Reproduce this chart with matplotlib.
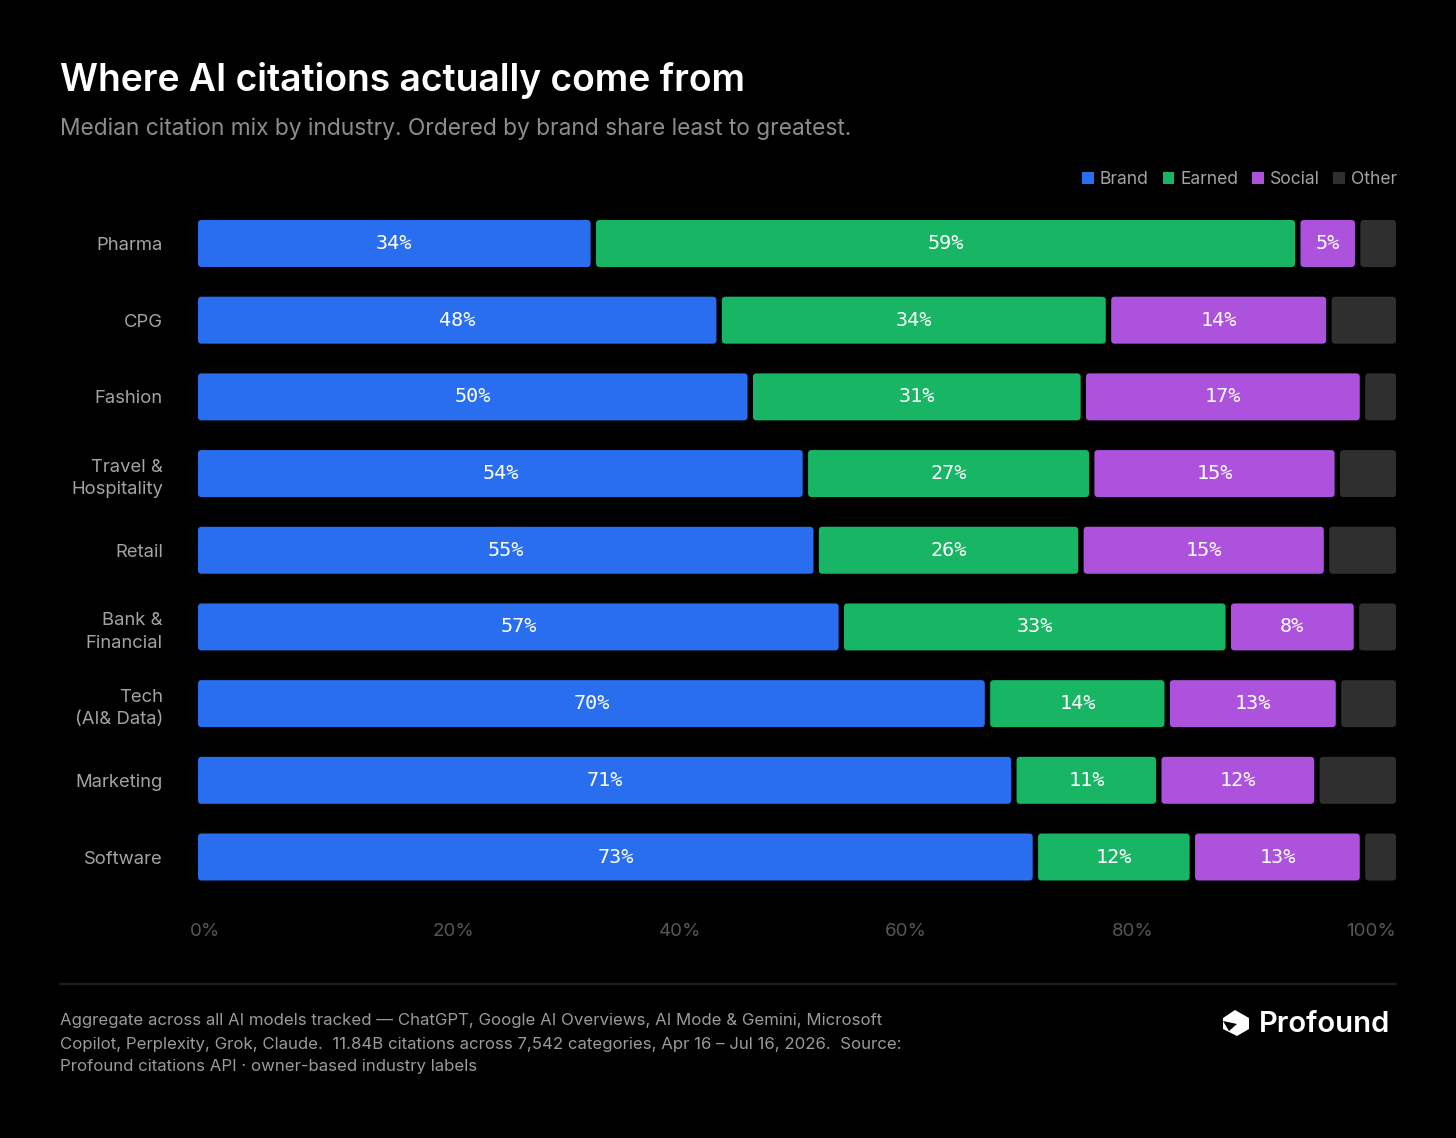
import matplotlib
matplotlib.use("Agg")
import matplotlib.pyplot as plt
from matplotlib.patches import FancyBboxPatch, Patch, Polygon
from matplotlib.lines import Line2D
import numpy as np

# ---------------- data ----------------
categories = ["Pharma", "CPG", "Fashion", "Travel &\nHospitality", "Retail",
              "Bank &\nFinancial", "Tech\n(AI& Data)", "Marketing", "Software"]
# bar segment widths as drawn (share of bar, %)
brand_share = [33.0, 43.5, 46.1, 50.7, 51.6, 53.7, 65.9, 68.1, 69.9]
earned_share = [58.8, 32.5, 27.8, 23.9, 22.1, 32.3, 15.0, 12.1, 13.1]
social_share = [5.0, 18.4, 23.3, 20.5, 20.5, 10.7, 14.3, 13.2, 14.2]
other_share = [3.2, 5.6, 2.8, 4.9, 5.8, 3.3, 4.8, 6.6, 2.8]
# printed median labels (%)
brand_label = [34, 48, 50, 54, 55, 57, 70, 71, 73]
earned_label = [59, 34, 31, 27, 26, 33, 14, 11, 12]
social_label = [5, 14, 17, 15, 15, 8, 13, 12, 13]

series_names = ["Brand", "Earned", "Social", "Other"]
series_colors = ["#286EEF", "#17B564", "#AD52DC", "#2F2F2F"]

tick_labels = ["0%", "20%", "40%", "60%", "80%", "100%"]
tick_pos = [-0.7, 21.3, 40.2, 59.1, 78.0, 100]
tick_ha = ["left", "center", "center", "center", "center", "right"]

title = "Where AI citations actually come from"
subtitle = "Median citation mix by industry. Ordered by brand share least to greatest."
footer_lines = [
    "Aggregate across all AI models tracked \u2014 ChatGPT, Google AI Overviews, AI Mode & Gemini, Microsoft",
    "Copilot, Perplexity, Grok, Claude.  11.84B citations across 7,542 categories, Apr 16 \u2013 Jul 16, 2026.  Source:",
    "Profound citations API \u00b7 owner-based industry labels",
]

# ---------------- layout ----------------
W, H = 1456, 1138
plt.rcParams['font.family'] = ['Inter', 'DejaVu Sans']

def fx(x):
    return x / W

def fy(y):
    return 1 - y / H

fig = plt.figure(figsize=(W / 100, H / 100), dpi=100, facecolor="black")
ax_left, ax_right = 198, 1396
row_px = 76.7
ax_top = 243.5 - row_px / 2
ax_bot = 857 + row_px / 2
ax = fig.add_axes([fx(ax_left), fy(ax_bot), (ax_right - ax_left) / W, (ax_bot - ax_top) / H])
ax.set_facecolor("black")
n = len(categories)
ax.set_xlim(0, 100)
ax.set_ylim(n - 0.5, -0.5)
for s in ax.spines.values():
    s.set_visible(False)

y = np.arange(n)
bar_h = 47 / row_px
px_x = (ax_right - ax_left) / 100.0   # pixels per x unit
gap = 5.4 / px_x
radius_px = 3.5
r_x = radius_px / px_x
aspect = (1 / row_px) / (1 / px_x)

shares = [brand_share, earned_share, social_share, other_share]
labels = [brand_label, earned_label, social_label, None]
cum = np.zeros(n)
for k, (vals, col) in enumerate(zip(shares, series_colors)):
    vals = np.array(vals, dtype=float)
    left = cum + (gap / 2 if k > 0 else 0)
    right = cum + vals - (gap / 2 if k < 3 else 0)
    bars = ax.barh(y, right - left, left=left, height=bar_h, color=col)
    for rect in bars:
        bx, by = rect.get_x(), rect.get_y()
        bw, bh = rect.get_width(), rect.get_height()
        rect.set_visible(False)
        p = FancyBboxPatch((bx, by), bw, bh,
                           boxstyle=f"round,pad=0,rounding_size={r_x}",
                           mutation_aspect=aspect, facecolor=col,
                           edgecolor="none", linewidth=0)
        ax.add_patch(p)
    if labels[k] is not None:
        for i in range(n):
            cx = (left[i] + right[i]) / 2
            ax.text(cx, y[i], f"{labels[k][i]}%", ha="center", va="center",
                    color="white", fontsize=14.5, family=["DejaVu Sans Mono"])
    cum = cum + vals

# category labels
ax.set_yticks(y)
ax.set_yticklabels(categories)
ax.tick_params(axis="y", length=0, pad=35 * 0.72, labelsize=13.3, labelcolor="#A3A3A3")
for t in ax.get_yticklabels():
    t.set_linespacing(1.45)
ax.set_xticks([])

# x tick labels (evenly spread like the reference)
ty = (ax_bot - 932) / (ax_bot - ax_top)
for lab, pos, ha in zip(tick_labels, tick_pos, tick_ha):
    ax.text(pos, ty, lab, transform=ax.get_xaxis_transform(), ha=ha, va="center",
            color="#575757", fontsize=13.5)

# titles
fig.text(fx(60), fy(91), title, color="white", fontsize=26.8, fontweight="semibold",
         va="baseline", ha="left")
fig.text(fx(60), fy(135), subtitle, color="#8C8C8C", fontsize=16.4, va="baseline", ha="left")

# legend
handles = [Patch(facecolor=c, edgecolor="none") for c in series_colors]
fig.legend(handles, series_names, loc="upper right",
           bbox_to_anchor=(fx(1397), fy(171)), ncol=4, frameon=False,
           fontsize=12.6, labelcolor="#A3A3A3", handlelength=0.68, handleheight=0.68,
           handletextpad=0.32, columnspacing=0.8, borderpad=0, borderaxespad=0)

# divider
fig.add_artist(Line2D([fx(60), fx(1396)], [fy(984), fy(984)], color="#262626", lw=1.2))

# footer
for i, line in enumerate(footer_lines):
    fig.text(fx(60), fy(1021 + 23 * i), line, color="#9A9A9A", fontsize=12.1,
             va="center", ha="left")

# logo
fig.text(fx(1259), fy(1024), "Profound", color="white", fontsize=21,
         fontweight="semibold", va="center", ha="left")
icon = [(1235, 1010), (1249, 1018), (1249, 1029), (1237, 1036), (1223, 1029), (1223, 1018)]
fig.add_artist(Polygon([(fx(a), fy(b)) for a, b in icon], closed=True,
                       facecolor="white", edgecolor="none", transform=fig.transFigure))
notch = [(1223, 1021), (1237, 1024), (1229, 1031)]
fig.add_artist(Polygon([(fx(a), fy(b)) for a, b in notch], closed=True,
                       facecolor="black", edgecolor="none", transform=fig.transFigure))

fig.savefig("out.png", dpi=100, facecolor="black")
